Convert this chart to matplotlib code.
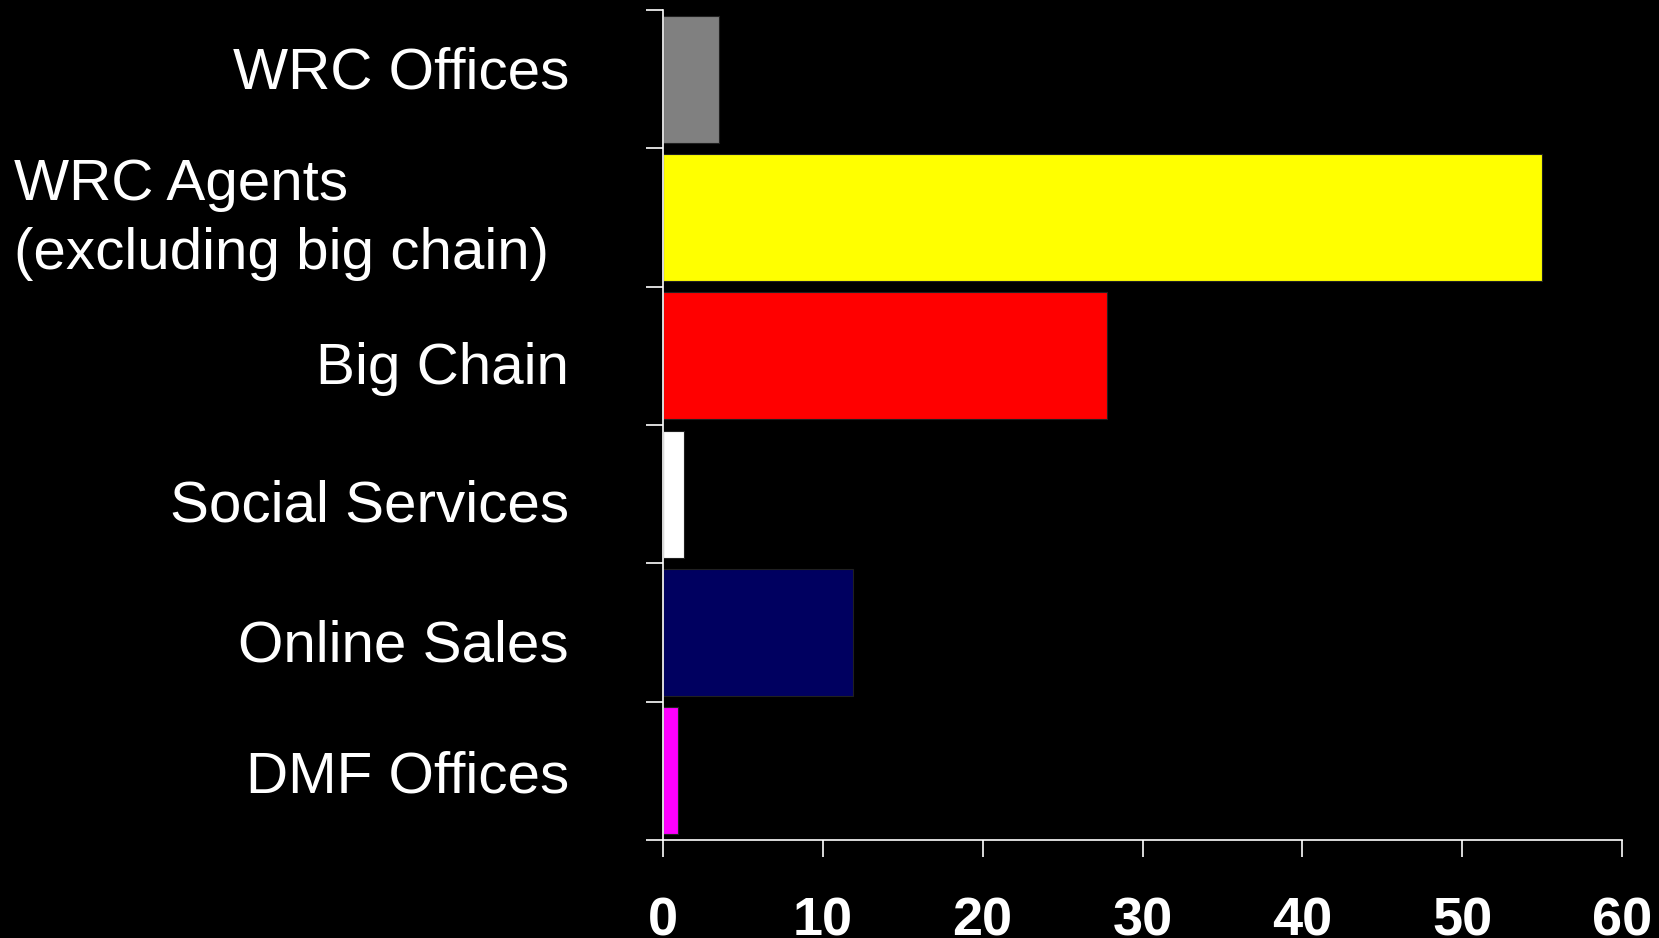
import matplotlib
matplotlib.use("Agg")
import matplotlib.pyplot as plt
from matplotlib.transforms import ScaledTranslation

categories = ["WRC Offices", "WRC Agents\n(excluding big chain)", "Big Chain",
              "Social Services", "Online Sales", "DMF Offices"]
values = [3.5, 55.0, 27.8, 1.3, 11.9, 0.95]
colors = ["#808080", "#FFFF00", "#FF0000", "#FFFFFF", "#000060", "#FF00FF"]
xticks = [0, 10, 20, 30, 40, 50, 60]

# label baseline offsets below the category centre (pixels, positive = down)
label_dy = [9, 2, 28, 27, 29, 22]

plt.rcParams['font.family'] = ['Liberation Sans', 'DejaVu Sans']

fig = plt.figure(figsize=(16.59, 9.38), dpi=100, facecolor='black')
ax = fig.add_axes([663/1659, 1 - 840/938, (1622-663)/1659, (840-10)/938])
ax.set_facecolor('black')

ypos = list(range(len(categories)))
ax.barh(ypos, values, height=0.92, color=colors, edgecolor='#202020', linewidth=0.8, zorder=2)

ax.set_xlim(0, 60)
ax.set_ylim(len(categories) - 0.5, -0.5)
ax.set_xticks(xticks)
ax.set_xticklabels([str(t) for t in xticks], fontsize=39, fontweight='bold', color='white')
ax.set_yticks([i - 0.5 for i in range(len(categories) + 1)])
ax.set_yticklabels([])

for s in ['top', 'right']:
    ax.spines[s].set_visible(False)
for s in ['left', 'bottom']:
    ax.spines[s].set_color('white')
    ax.spines[s].set_linewidth(1.2)
    ax.spines[s].set_zorder(3)

ax.tick_params(axis='x', colors='white', length=12.2, width=1.2, pad=28.5, direction='out')
ax.tick_params(axis='y', colors='white', length=12.2, width=1.2, direction='out')

trans = ax.get_yaxis_transform()
for i, lab in enumerate(categories):
    off = ScaledTranslation(0, -label_dy[i] / 100.0, fig.dpi_scale_trans)
    if "\n" in lab:
        ax.text(-(663 - 14) / 959, i, lab, transform=trans + off, ha='left', va='center',
                fontsize=42, color='white', multialignment='left', linespacing=1.34)
    else:
        ax.text(-(663 - 569) / 959, i, lab, transform=trans + off, ha='right', va='baseline',
                fontsize=42, color='white')

fig.savefig("out.png", dpi=100, facecolor='black')
